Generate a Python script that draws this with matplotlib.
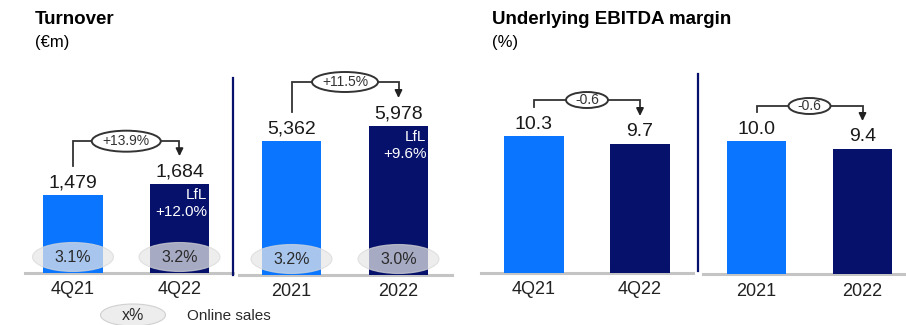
import matplotlib
matplotlib.use('Agg')
import matplotlib.pyplot as plt
from matplotlib import transforms
from matplotlib.lines import Line2D
from matplotlib.patches import Ellipse

plt.rcParams['font.family'] = ['Liberation Sans', 'DejaVu Sans']

LIGHT = '#0A76FF'
NAVY = '#05116B'
GREY_LINE = '#C4C4C4'

# turnover (EUR m)
quarters: list = ['4Q21', '4Q22']
years: list = ['2021', '2022']
turnover_q: list = [1479, 1684]
turnover_y: list = [5362, 5978]
turnover_q_labels: list = ['1,479', '1,684']
turnover_y_labels: list = ['5,362', '5,978']
online_q: list = ['3.1%', '3.2%']
online_y: list = ['3.2%', '3.0%']
lfl_q: str = '+12.0%'
lfl_y: str = '+9.6%'
growth_q: str = '+13.9%'
growth_y: str = '+11.5%'

# underlying EBITDA margin (%)
margin_q: list = [10.3, 9.7]
margin_y: list = [10.0, 9.4]
margin_change_q: str = '-0.6'
margin_change_y: str = '-0.6'

W, H = 906, 325
fig = plt.figure(figsize = (W / 100, H / 100), dpi = 100)


def px_axes(left, right, c0, c1, base, scale, top = 55):
    # axes placed in pixel units; bars centred on c0 / c1, `scale` px per data unit
    ax = fig.add_axes([left / W, 1 - base / H, (right - left) / W, (base - top) / H])
    unit = c1 - c0
    ax.set_xlim((left - c0) / unit, (right - c0) / unit)
    ax.set_ylim(0, (base - top) / scale)
    ax.axis('off')
    ax.set_clip_on(False)
    ax.axhline(0, color = GREY_LINE, lw = 2.2, clip_on = False, zorder = 1)
    return ax


def oval(ax, x, y, w_px, h_px, dy_px = 0, **kw):
    # fixed-size ellipse anchored at a data point
    trans = fig.dpi_scale_trans + transforms.ScaledTranslation(x, y, ax.transData)
    e = Ellipse((0, dy_px / 100), w_px / 100, h_px / 100, transform = trans, **kw)
    ax.add_artist(e)
    return e


def bars(ax, values, labels, cats, scale):
    ax.bar([0, 1], values, width = 0.56, color = [LIGHT, NAVY], zorder = 2)
    for i, (v, lab) in enumerate(zip(values, labels)):
        ax.annotate(lab, (i, v), xytext = (0, 12 * 0.72), textcoords = 'offset points',
                    ha = 'center', va = 'center', fontsize = 14, color = '#1a1a1a')
        ax.annotate(cats[i], (i, 0), xytext = (0, -17 * 0.72), textcoords = 'offset points',
                    ha = 'center', va = 'center', fontsize = 13, color = '#222222')


def bracket(ax, values, text, scale, top_px, oval_w, oval_h, fs):
    y0 = values[0] + 29 / scale
    y1 = values[1] + 28 / scale
    yt = max(values) + top_px / scale
    ax.plot([0, 0, 1, 1], [y0, yt, yt, y1 + 6 / scale], color = '#333333', lw = 1.3,
            solid_joinstyle = 'miter', zorder = 3)
    ax.annotate('', xy = (1, y1), xytext = (1, y1 + 7 / scale),
                arrowprops = dict(arrowstyle = '-|>,head_width=0.22,head_length=0.45',
                                  color = '#222222', lw = 1.2, shrinkA = 0, shrinkB = 0))
    oval(ax, 0.5, yt, oval_w, oval_h, fc = 'white', ec = '#333333', lw = 1.4, zorder = 4)
    ax.text(0.5, yt, text, ha = 'center', va = 'center', fontsize = fs, color = '#333333', zorder = 5)


def online(ax, labels):
    for i, lab in enumerate(labels):
        oval(ax, i, 0, 81, 29, dy_px = 16, fc = '#E6E6E6', ec = '#D8D8D8', lw = 0.8,
             alpha = 0.72, zorder = 3)
        ax.annotate(lab, (i, 0), xytext = (0, 16 * 0.72), textcoords = 'offset points',
                    ha = 'center', va = 'center', fontsize = 11.5, color = '#2a2a2a', zorder = 4)


def lfl(ax, value, text):
    ax.annotate('LfL', (1.26, value), xytext = (0, -11 * 0.72), textcoords = 'offset points',
                ha = 'right', va = 'center', fontsize = 11, color = 'white', zorder = 4)
    ax.annotate(text, (1.26, value), xytext = (0, -28 * 0.72), textcoords = 'offset points',
                ha = 'right', va = 'center', fontsize = 11, color = 'white', zorder = 4)


# turnover, quarter
s_q = 78 / 1479
ax1 = px_axes(25, 233, 73, 179.5, 273, s_q)
bars(ax1, turnover_q, turnover_q_labels, quarters, s_q)
bracket(ax1, turnover_q, growth_q, s_q, 43, 69, 21, 10)
online(ax1, online_q)
lfl(ax1, turnover_q[1], lfl_q)

# turnover, full year
s_y = 149 / 5978
ax2 = px_axes(239, 452, 291.5, 398.5, 275, s_y)
bars(ax2, turnover_y, turnover_y_labels, years, s_y)
bracket(ax2, turnover_y, growth_y, s_y, 44, 66, 20, 10)
online(ax2, online_y)
lfl(ax2, turnover_y[1], lfl_y)

# EBITDA margin, quarter
s_m = 13.3
ax3 = px_axes(481, 693, 534, 640, 273, s_m)
bars(ax3, margin_q, [f'{v:.1f}' for v in margin_q], quarters, s_m)
bracket(ax3, margin_q, margin_change_q, s_m, 36, 42, 16, 10)

# EBITDA margin, full year
ax4 = px_axes(703, 906, 756.5, 862.5, 274, s_m)
bars(ax4, margin_y, [f'{v:.1f}' for v in margin_y], years, s_m)
bracket(ax4, margin_y, margin_change_y, s_m, 35, 42, 16, 10)

# divider lines between quarter and year groups
for x, y_top, y_bot in [(233, 78, 275), (698, 74, 271)]:
    fig.add_artist(Line2D([x / W, x / W], [1 - y_top / H, 1 - y_bot / H], color = NAVY, lw = 1.6))

# titles
fig.text(35 / W, 1 - 20 / H, 'Turnover', fontsize = 13.5, fontweight = 'bold', va = 'center')
fig.text(35 / W, 1 - 42 / H, '(€m)', fontsize = 12, va = 'center')
fig.text(492 / W, 1 - 20 / H, 'Underlying EBITDA margin', fontsize = 13.5, fontweight = 'bold', va = 'center')
fig.text(492 / W, 1 - 42 / H, '(%)', fontsize = 12, va = 'center')

# legend for online sales share
fig.add_artist(Ellipse((133 / W, 1 - 315 / H), 65 / W, 22 / H, transform = fig.transFigure,
                       fc = '#EDEDED', ec = '#D0D0D0', lw = 0.8))
fig.text(133 / W, 1 - 315 / H, 'x%', fontsize = 11.5, ha = 'center', va = 'center', color = '#2a2a2a')
fig.text(187 / W, 1 - 316 / H, 'Online sales', fontsize = 11, va = 'center', color = '#2a2a2a')

fig.savefig('out.png', dpi = 100)
